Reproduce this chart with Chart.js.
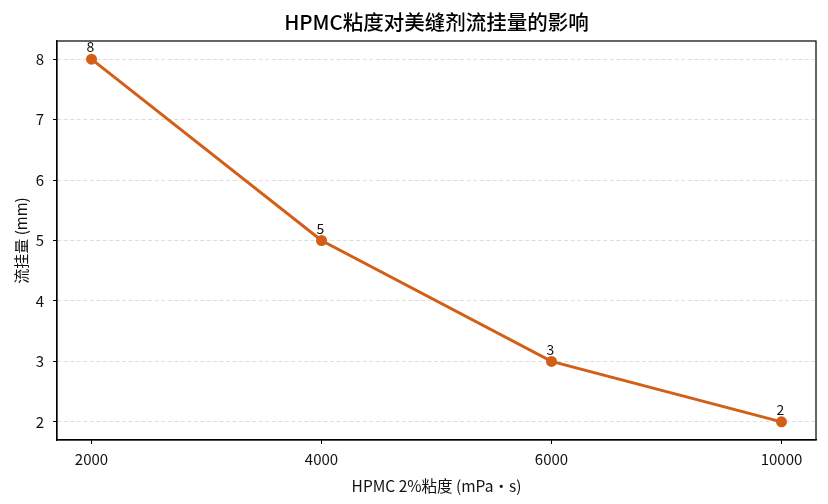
<!DOCTYPE html>
<html>
<head>
<meta charset="utf-8">
<script src="https://cdn.jsdelivr.net/npm/chart.js@4/dist/chart.umd.min.js"></script>
<style>
  html, body { margin: 0; padding: 0; background: #fff; }
  #wrap { width: 828px; height: 504px; }
</style>
</head>
<body>
<div id="wrap"><canvas id="chart"></canvas></div>
<script>
const chartTitle = "HPMC粘度对美缝剂流挂量的影响";
const viscosity = ["2000", "4000", "6000", "10000"];
const sagging = [8, 5, 3, 2];
const yTicks = [2, 3, 4, 5, 6, 7, 8];

const FONT = "'Noto Sans CJK SC', 'DejaVu Sans', sans-serif";
const lineColor = "#D35F17";

// title centred over the plot, box around the plot, value labels over the points
const extras = {
    id: 'extras',
    afterDatasetsDraw(chart) {
        const c = chart.ctx;
        const a = chart.chartArea;
        c.save();
        c.fillStyle = "#000";
        c.font = "500 20.5px " + FONT;
        c.textAlign = "center";
        c.textBaseline = "middle";
        c.fillText(chartTitle, (a.left + a.right) / 2, 22);

        c.strokeStyle = "#000";
        c.lineWidth = 1.2;
        c.strokeRect(a.left, a.top, a.right - a.left, a.bottom - a.top);

        c.fillStyle = "#111";
        c.font = "14px " + FONT;
        c.textBaseline = "bottom";
        chart.getDatasetMeta(0).data.forEach(function(pt, i) {
            c.fillText(String(sagging[i]), pt.x - 1, pt.y - 5);
        });
        c.restore();
    }
};

new Chart(document.getElementById("chart").getContext('2d'), {
    type: "line",
    data: {
        datasets: [{
            label: "流挂量",
            data: sagging.map(function(v, i) { return { x: i, y: v }; }),
            borderColor: lineColor,
            backgroundColor: lineColor,
            borderWidth: 3,
            pointRadius: 5.5,
            pointHoverRadius: 5.5,
            pointBorderWidth: 0,
            tension: 0,
            fill: false
        }]
    },
    options: {
        responsive: true,
        maintainAspectRatio: false,
        animation: false,
        devicePixelRatio: 1,
        layout: { padding: { left: 12, right: 12, top: 41, bottom: 0 } },
        plugins: {
            legend: { display: false },
            tooltip: { enabled: false },
            title: { display: false }
        },
        scales: {
            x: {
                type: 'linear',
                min: -0.15,
                max: 3.15,
                afterBuildTicks: function(scale) {
                    scale.ticks = viscosity.map(function(_, i) { return { value: i }; });
                },
                afterFit: function(scale) { scale.height = 64; },
                grid: {
                    display: true,
                    drawOnChartArea: false,
                    drawTicks: true,
                    tickLength: 4,
                    tickColor: "#000"
                },
                border: { display: true, color: "#000", width: 1.2 },
                ticks: {
                    color: "#111",
                    padding: 6,
                    font: { size: 15, family: FONT },
                    callback: function(v) { return viscosity[v]; }
                },
                title: {
                    display: true,
                    text: "HPMC 2%粘度 (mPa·s)",
                    color: "#111",
                    font: { size: 15.5, family: FONT },
                    padding: { top: 2, bottom: 9 }
                }
            },
            y: {
                min: 1.7,
                max: 8.3,
                afterBuildTicks: function(scale) {
                    scale.ticks = yTicks.map(function(v) { return { value: v }; });
                },
                afterFit: function(scale) { scale.width = 45; },
                grid: {
                    display: true,
                    drawOnChartArea: true,
                    drawTicks: true,
                    tickLength: 4,
                    color: "#dedede",
                    tickColor: "#000",
                    tickBorderDash: []
                },
                border: { display: true, color: "#000", width: 1.2, dash: [4, 2.5] },
                ticks: {
                    color: "#111",
                    padding: 9,
                    font: { size: 15, family: FONT }
                },
                title: {
                    display: true,
                    text: "流挂量 (mm)",
                    color: "#111",
                    font: { size: 15, family: FONT },
                    padding: { top: 0, bottom: 0 }
                }
            }
        }
    },
    plugins: [extras]
});
</script>
</body>
</html>
